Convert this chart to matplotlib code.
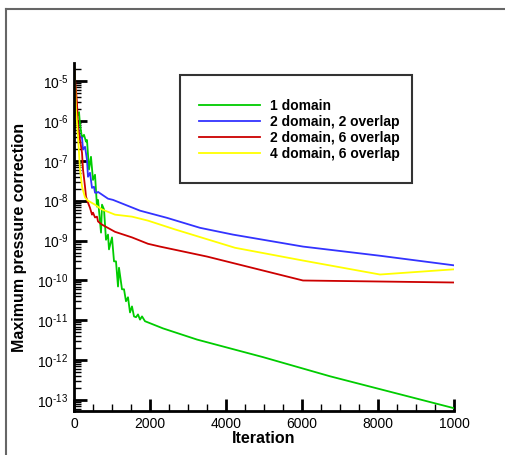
import matplotlib
matplotlib.use("Agg")

import matplotlib.pyplot as plt
import numpy as np
from matplotlib.lines import Line2D
from matplotlib.patches import Rectangle
from matplotlib.ticker import FixedLocator, FixedFormatter, LogLocator, NullFormatter

plt.rcParams["font.family"] = ["Liberation Sans", "DejaVu Sans"]
plt.rcParams["mathtext.fontset"] = "custom"
plt.rcParams["mathtext.rm"] = "Liberation Sans"
plt.rcParams["mathtext.it"] = "Liberation Sans"

# residual histories: iteration, log10(max pressure correction)
iter_1dom = [0, 53, 105, 132, 158, 211, 263, 316, 342, 395, 447, 500, 553, 605, 632,
             711, 737, 790, 842, 895, 921, 1000, 1053, 1105, 1158, 1184, 1263, 1316,
             1368, 1421, 1474, 1526, 1579, 1632, 1684, 1737, 1790, 1868, 1947, 2342,
             3237, 4974, 6737, 10000]
res_1dom = [-5.3, -5.85, -5.85, -5.78, -6.1, -6.42, -6.35, -6.52, -6.48, -7.22, -6.9,
            -7.48, -7.35, -8.15, -7.98, -8.8, -8.1, -8.22, -8.98, -8.85, -9.22, -8.92,
            -9.52, -9.52, -10.15, -9.68, -10.22, -10.22, -10.52, -10.42, -10.8, -10.65,
            -10.9, -10.92, -10.85, -10.98, -10.9, -11.02, -11.05, -11.2, -11.48, -11.92,
            -12.4, -13.2]

iter_2dom_2ov = [0, 79, 158, 211, 237, 290, 342, 368, 421, 474, 526, 553, 605, 632,
                 895, 1026, 1737, 2447, 3316, 4184, 6026, 8053, 10000]
res_2dom_2ov = [-4.7, -6.02, -6.4, -6.42, -6.72, -6.65, -6.98, -7.4, -7.3, -7.68, -7.65,
                -7.8, -7.8, -7.78, -7.95, -7.98, -8.25, -8.43, -8.68, -8.85, -9.15,
                -9.38, -9.62]

iter_2dom_6ov = [0, 79, 105, 158, 211, 237, 290, 316, 368, 421, 474, 500, 553, 605,
                 632, 737, 1079, 1526, 1947, 2263, 3500, 6026, 10000]
res_2dom_6ov = [-4.62, -5.55, -6.15, -6.48, -6.8, -7.22, -7.65, -7.9, -8.05, -8.18,
                -8.35, -8.3, -8.42, -8.4, -8.52, -8.6, -8.78, -8.92, -9.08, -9.15,
                -9.4, -10.0, -10.05]

iter_4dom_6ov = [0, 26, 53, 105, 132, 158, 211, 290, 368, 553, 737, 1079, 1526, 1737,
                 1947, 2658, 4237, 6026, 8053, 10000]
res_4dom_6ov = [-4.55, -4.98, -5.72, -6.4, -6.8, -7.22, -7.65, -7.92, -8.0, -8.1,
                -8.22, -8.35, -8.4, -8.45, -8.5, -8.72, -9.18, -9.5, -9.85, -9.72]

labels = ["1 domain", "2 domain, 2 overlap", "2 domain, 6 overlap", "4 domain, 6 overlap"]
colors = ["#00cc00", "#3333ff", "#cc0000", "#ffff00"]

x_ticks = [0, 2000, 4000, 6000, 8000, 10000]
x_ticklabels = ["0", "2000", "4000", "6000", "8000", "1000"]
y_exponents = [-5, -6, -7, -8, -9, -10, -11, -12, -13]

fig = plt.figure(figsize=(5.06, 4.55), dpi=100)
ax = fig.add_axes([74 / 506, 1 - 411 / 455, 380 / 506, 348 / 455])

series = [
    (iter_1dom, res_1dom),
    (iter_2dom_2ov, res_2dom_2ov),
    (iter_2dom_6ov, res_2dom_6ov),
    (iter_4dom_6ov, res_4dom_6ov),
]
for (it, res), lab, col in zip(series, labels, colors):
    ax.plot(it, 10.0 ** np.asarray(res), color=col, lw=1.3, label=lab)

ax.set_yscale("log")
ax.set_xlim(0, 10000)
ax.set_ylim(10 ** -13.27, 10 ** -4.55)

ax.xaxis.set_major_locator(FixedLocator(x_ticks))
ax.xaxis.set_major_formatter(FixedFormatter(x_ticklabels))
ax.xaxis.set_minor_locator(FixedLocator(np.arange(0, 10001, 500)))

y_major = [10.0 ** e for e in y_exponents]
ax.yaxis.set_major_locator(FixedLocator(y_major))
ax.yaxis.set_major_formatter(
    FixedFormatter([rf"$10^{{\text{{-{abs(e)}}}}}$" for e in y_exponents]))
ax.yaxis.set_minor_locator(LogLocator(base=10, subs=np.arange(2, 10), numticks=30))
ax.yaxis.set_minor_formatter(NullFormatter())

for side in ("top", "right"):
    ax.spines[side].set_visible(False)
for side in ("left", "bottom"):
    ax.spines[side].set_linewidth(2.0)

ax.tick_params(which="major", direction="in", length=9, width=2, labelsize=10, pad=4)
ax.tick_params(which="minor", direction="in", length=5, width=1)

ax.set_xlabel("Iteration", fontsize=11.5, fontweight="bold", labelpad=0)
ax.set_ylabel("Maximum pressure correction", fontsize=11.5, fontweight="bold", labelpad=7)

# legend without its own frame; box drawn separately
leg = ax.legend(loc="upper left", bbox_to_anchor=(118 / 380, 1 - 29 / 348),
                prop={"weight": "bold", "size": 10},
                handlelength=4.4, handletextpad=0.7, labelspacing=0.15,
                borderpad=0, frameon=False)
for h in leg.get_lines():
    h.set_linewidth(1.3)
ax.add_patch(Rectangle((106 / 380, 1 - 120 / 348), 232 / 380, 108 / 348,
                       transform=ax.transAxes, fill=False, edgecolor="#333333",
                       lw=1.5, zorder=5))

# page frame around the plot
fig.add_artist(Line2D([6 / 506, 6 / 506], [0, 1 - 9 / 455], color="#666666", lw=1.5,
                      transform=fig.transFigure))
fig.add_artist(Line2D([6 / 506, 1], [1 - 9 / 455, 1 - 9 / 455], color="#666666", lw=1.5,
                      transform=fig.transFigure))

fig.savefig("out.png", dpi=100)
